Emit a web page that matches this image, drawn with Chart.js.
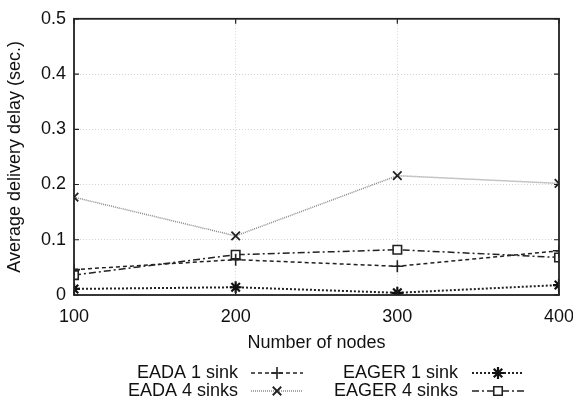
<!DOCTYPE html>
<html lang="en">
<head>
  <meta charset="UTF-8">
  <title>Average delivery delay</title>
  <script src="https://cdn.jsdelivr.net/npm/chart.js"></script>
  <style>
    html, body { margin: 0; padding: 0; background: #fff; overflow: hidden; }
  </style>
</head>
<body>
<canvas id="delayChart" width="573" height="398"></canvas>

<script>
  // number of nodes
  const nodes = [100, 200, 300, 400];
  // average delivery delay (sec.)
  const eada1 = [0.046, 0.064, 0.052, 0.080];
  const eada4 = [0.177, 0.107, 0.216, 0.202];
  const eager1 = [0.011, 0.014, 0.004, 0.018];
  const eager4 = [0.036, 0.073, 0.082, 0.068];
  const seriesNames = ['EADA 1 sink', 'EADA 4 sinks', 'EAGER 1 sink', 'EAGER 4 sinks'];
  const yTicks = [0, 0.1, 0.2, 0.3, 0.4, 0.5];

  const font = 'Liberation Sans, Arial, Helvetica, sans-serif';

  function pts(vals) {
    return nodes.map((n, i) => ({ x: n, y: vals[i] }));
  }

  // gnuplot style inward ticks on all four sides
  const innerTicks = {
    id: 'innerTicks',
    afterDraw(chart) {
      const ctx = chart.ctx, a = chart.chartArea;
      const xs = chart.scales.x, ys = chart.scales.y;
      ctx.save();
      ctx.strokeStyle = '#222';
      ctx.lineWidth = 1.2;
      ctx.beginPath();
      nodes.forEach(n => {
        const px = xs.getPixelForValue(n);
        ctx.moveTo(px, a.bottom); ctx.lineTo(px, a.bottom - 5);
        ctx.moveTo(px, a.top); ctx.lineTo(px, a.top + 5);
      });
      yTicks.forEach(v => {
        const py = ys.getPixelForValue(v);
        ctx.moveTo(a.left, py); ctx.lineTo(a.left + 5, py);
        ctx.moveTo(a.right, py); ctx.lineTo(a.right - 5, py);
      });
      ctx.stroke();
      ctx.lineWidth = 1.8;
      ctx.strokeRect(a.left, a.top, a.right - a.left, a.bottom - a.top);
      ctx.restore();
    }
  };

  // two-column key under the plot: label then line sample
  const keyPlugin = {
    id: 'keyPlugin',
    afterDraw(chart) {
      const ctx = chart.ctx;
      const textRight = [238, 458];
      const lineStart = [251, 472];
      const lineLen = 52;
      const rowY = [373, 391];
      chart.data.datasets.forEach((ds, i) => {
        const col = Math.floor(i / 2), row = i % 2;
        const y = rowY[row];
        ctx.save();
        ctx.font = '18px ' + font;
        ctx.fillStyle = '#111';
        ctx.textAlign = 'right';
        ctx.textBaseline = 'middle';
        ctx.fillText(ds.label, textRight[col], y);
        ctx.strokeStyle = ds.borderColor;
        ctx.lineWidth = ds.borderWidth;
        ctx.setLineDash(ds.borderDash);
        ctx.beginPath();
        ctx.moveTo(lineStart[col], y);
        ctx.lineTo(lineStart[col] + lineLen, y);
        ctx.stroke();
        ctx.setLineDash([]);
        ctx.strokeStyle = ds.pointBorderColor;
        ctx.fillStyle = '#fff';
        ctx.lineWidth = ds.pointBorderWidth;
        Chart.helpers.drawPoint(ctx, {
          pointStyle: ds.pointStyle, radius: ds.pointRadius, rotation: 0,
          borderWidth: ds.pointBorderWidth
        }, lineStart[col] + lineLen / 2, y);
        ctx.restore();
      });
    }
  };

  const ctx = document.getElementById('delayChart').getContext('2d');
  new Chart(ctx, {
    type: 'line',
    data: {
      datasets: [{
        label: seriesNames[0],
        data: pts(eada1),
        borderColor: '#222',
        borderWidth: 1.5,
        borderDash: [4, 3],
        pointStyle: 'cross',
        pointRadius: 6,
        pointBorderColor: '#222',
        pointBorderWidth: 1.6,
        pointBackgroundColor: '#fff'
      }, {
        label: seriesNames[1],
        data: pts(eada4),
        borderColor: '#8a8a8a',
        borderWidth: 1.5,
        borderDash: [1, 1],
        pointStyle: 'crossRot',
        pointRadius: 6,
        pointBorderColor: '#222',
        pointBorderWidth: 1.8,
        pointBackgroundColor: '#fff'
      }, {
        label: seriesNames[2],
        data: pts(eager1),
        borderColor: '#222',
        borderWidth: 2,
        borderDash: [2, 2],
        pointStyle: 'star',
        pointRadius: 6,
        pointBorderColor: '#111',
        pointBorderWidth: 2.2,
        pointBackgroundColor: '#fff'
      }, {
        label: seriesNames[3],
        data: pts(eager4),
        borderColor: '#222',
        borderWidth: 1.5,
        borderDash: [7, 3, 2, 3],
        pointStyle: 'rect',
        pointRadius: 6,
        pointBorderColor: '#222',
        pointBorderWidth: 1.6,
        pointBackgroundColor: '#fff'
      }]
    },
    options: {
      responsive: false,
      animation: false,
      layout: { padding: { top: 15, right: 14, bottom: 40, left: 0 } },
      plugins: {
        legend: { display: false },
        tooltip: { enabled: false }
      },
      scales: {
        x: {
          type: 'linear',
          min: 100,
          max: 400,
          afterBuildTicks: s => { s.ticks = nodes.map(v => ({ value: v })); },
          afterFit: s => { s.height = 63; s.paddingRight = 0; s.paddingLeft = 0; },
          grid: { color: '#d4d4d4', lineWidth: 1, drawTicks: false },
          border: { display: false, dash: [1, 2] },
          ticks: { color: '#111', font: { size: 18, family: font }, padding: 11 },
          title: { display: true, text: 'Number of nodes', color: '#111', font: { size: 18, family: font }, padding: { top: 4 } }
        },
        y: {
          min: 0,
          max: 0.5,
          afterBuildTicks: s => { s.ticks = yTicks.map(v => ({ value: v })); },
          afterFit: s => { s.width = 74; },
          grid: { color: '#d4d4d4', lineWidth: 1, drawTicks: false },
          border: { display: false, dash: [1, 2] },
          ticks: { color: '#111', font: { size: 18, family: font }, padding: 8 },
          title: { display: true, text: 'Average delivery delay (sec.)', color: '#111', font: { size: 18, family: font }, padding: { bottom: 0 } }
        }
      }
    },
    plugins: [innerTicks, keyPlugin]
  });
</script>
</body>
</html>
